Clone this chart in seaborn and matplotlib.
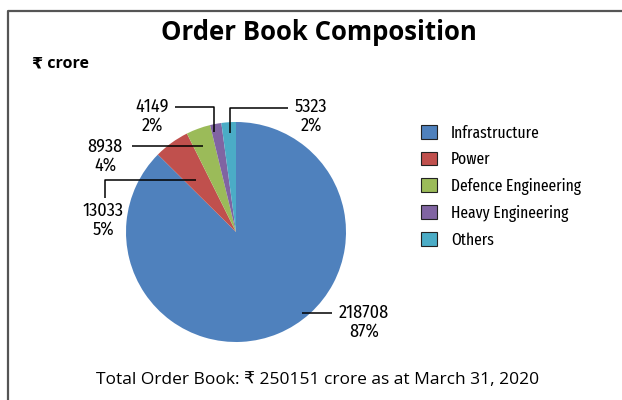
import matplotlib
matplotlib.use("Agg")
import matplotlib.pyplot as plt
from matplotlib.lines import Line2D
import seaborn as sns

sns.set_theme(style="white")
COND = ["Fira Sans Condensed", "DejaVu Sans"]
XCOND = ["Fira Sans Extra Condensed", "Fira Sans Condensed", "DejaVu Sans"]
REG = ["Open Sans", "DejaVu Sans"]
plt.rcParams["font.family"] = COND
plt.rcParams["text.color"] = "black"

# Order book by segment (Rs crore)
segments = ["Infrastructure", "Power", "Defence Engineering", "Heavy Engineering", "Others"]
values = [218708, 13033, 8938, 4149, 5323]
percent_labels = ["87%", "5%", "4%", "2%", "2%"]
total_order_book = 250151
colors = ["#4F81BD", "#C0504D", "#9BBB59", "#8064A2", "#4BACC6"]

W, H = 622, 400
fig = plt.figure(figsize=(W / 100, H / 100), dpi=100)

def fx(x):
    return x / W

def fy(y):
    return 1 - y / H

# pie axes: centre (236, 232) px, radius 110 px
cx, cy, r = 236, 232, 110
ax = fig.add_axes([fx(cx - r), fy(cy + r), 2 * r / W, 2 * r / H])
wedges, _ = ax.pie(values, colors=colors, startangle=90, counterclock=False,
                   radius=1, wedgeprops=dict(linewidth=0))
ax.set_xlim(-1, 1)
ax.set_ylim(-1, 1)
ax.set_axis_off()

def dx(x):
    return (x - cx) / r

def dy(y):
    return (cy - y) / r

# leader paths (px) and label centres (px)
leaders = [
    [(302, 313), (332, 313)],
    [(196, 180), (105, 180), (105, 198)],
    [(203, 146), (132, 146)],
    [(214, 132), (214, 107), (175, 107)],
    [(230, 133), (230, 108), (288, 108)],
]
label_pos = [(364, 322), (103, 220), (105, 156), (152, 116), (311, 116)]

for path, (lx, ly), v, p in zip(leaders, label_pos, values, percent_labels):
    xs = [dx(a) for a, _ in path]
    ys = [dy(b) for _, b in path]
    ax.plot(xs, ys, color="black", lw=1.1, clip_on=False, solid_capstyle="butt")
    fig.text(fx(lx), fy(ly), f"{v}\n{p}", ha="center", va="center",
             fontsize=13, color="black", linespacing=1.05)

# legend
leg = fig.legend(wedges, segments, loc="upper left",
                 bbox_to_anchor=(fx(406), fy(110)), frameon=False,
                 prop=dict(family=XCOND, size=12.2),
                 handlelength=0.9, handleheight=0.85,
                 handletextpad=0.85, labelspacing=0.6)
for h in leg.legend_handles:
    h.set_edgecolor("#222222")
    h.set_linewidth(0.8)

# titles
fig.text(fx(319), fy(32), "Order Book Composition", ha="center", va="center",
         fontsize=18.5, fontweight="bold", family=REG)
fig.text(fx(32), fy(64), "₹ crore", ha="left", va="center",
         fontsize=11.5, fontweight="bold", family=REG)
fig.text(fx(318), fy(380),
         f"Total Order Book: ₹ {total_order_book} crore as at March 31, 2020",
         ha="center", va="center", fontsize=12.5, family=REG)

# frame on the top and left edges
fig.add_artist(Line2D([fx(8), fx(8), fx(622)], [fy(400), fy(11), fy(11)],
                      color="#555555", lw=1.6))

fig.savefig("out.png", dpi=100)
